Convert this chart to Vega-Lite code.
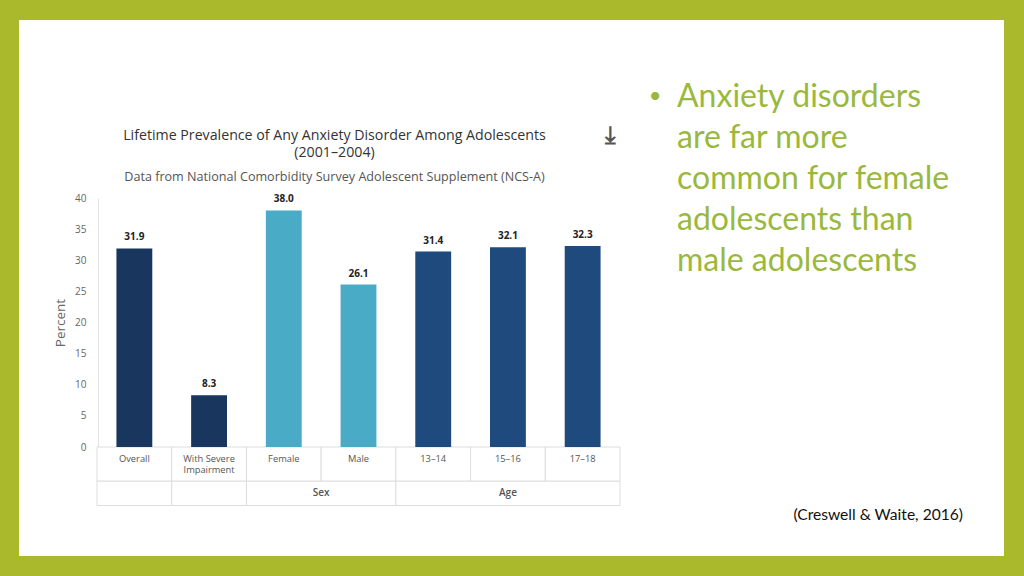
{
  "$schema": "https://vega.github.io/schema/vega-lite/v6.json",
  "width": 985,
  "height": 536,
  "autosize": {"type": "none"},
  "padding": {"left": 19, "top": 20, "right": 20, "bottom": 20},
  "background": "#a9b92b",
  "config": {"view": {"fill": "white", "stroke": null}, "font": "Open Sans"},
  "title": {
    "text": ["Lifetime Prevalence of Any Anxiety Disorder Among Adolescents", "(2001–2004)"],
    "subtitle": "Data from National Comorbidity Survey Adolescent Supplement (NCS-A)",
    "anchor": "middle",
    "dx": -177,
    "dy": 164,
    "offset": 0,
    "fontSize": 14.2,
    "fontWeight": "normal",
    "color": "#333333",
    "lineHeight": 17,
    "subtitleFontSize": 12.6,
    "subtitleColor": "#555555",
    "subtitlePadding": 11
  },
  "datasets": {
    "bars": [
      {"category": "Overall", "label": "Overall", "value": 31.9, "group": "overall"},
      {"category": "With Severe Impairment", "label": "With Severe\nImpairment", "value": 8.3, "group": "overall"},
      {"category": "Female", "label": "Female", "value": 38.0, "group": "sex"},
      {"category": "Male", "label": "Male", "value": 26.1, "group": "sex"},
      {"category": "13–14", "label": "13–14", "value": 31.4, "group": "age"},
      {"category": "15–16", "label": "15–16", "value": 32.1, "group": "age"},
      {"category": "17–18", "label": "17–18", "value": 32.3, "group": "age"}
    ],
    "groups": [
      {"group": "", "start": "Overall", "end": "Overall"},
      {"group": "", "start": "With Severe Impairment", "end": "With Severe Impairment"},
      {"group": "Sex", "start": "Female", "end": "Male"},
      {"group": "Age", "start": "13–14", "end": "17–18"}
    ],
    "notes": [
      {"kind": "bullet", "text": "Anxiety disorders\nare far more\ncommon for female\nadolescents than\nmale adolescents"},
      {"kind": "dot", "text": "•"},
      {"kind": "cite", "text": "(Creswell & Waite, 2016)"},
      {"kind": "icon", "text": "⤓"}
    ]
  },
  "layer": [
    {
      "data": {"name": "bars"},
      "mark": {"type": "rect", "fill": "white", "stroke": "#dddddd", "strokeWidth": 1},
      "encoding": {
        "x": {"field": "category", "type": "nominal", "sort": null,
              "scale": {"domain": ["Overall", "With Severe Impairment", "Female", "Male", "13–14", "15–16", "17–18"], "range": [78, 601], "paddingInner": 0, "paddingOuter": 0},
              "axis": null},
        "y": {"datum": 0, "type": "quantitative",
              "scale": {"domain": [0, 40], "range": [427, 178], "nice": false, "zero": false},
              "axis": {"title": "Percent", "values": [0, 5, 10, 15, 20, 25, 30, 35, 40], "grid": false, "ticks": false,
                       "labelPadding": 12, "labelFontSize": 10, "labelColor": "#666666", "domainColor": "#e3e3e3",
                       "offset": -79, "titleFontSize": 13.5, "titleFontWeight": "normal", "titleColor": "#666666", "titlePadding": 7}},
        "y2": {"datum": -5.5}
      }
    },
    {
      "data": {"name": "groups"},
      "layer": [
        {
          "mark": {"type": "rect", "fill": "white", "stroke": "#dddddd", "strokeWidth": 1},
          "encoding": {
            "x": {"field": "start", "type": "nominal", "bandPosition": 0,
                  "scale": {"domain": ["Overall", "With Severe Impairment", "Female", "Male", "13–14", "15–16", "17–18"], "range": [78, 601], "paddingInner": 0, "paddingOuter": 0},
                  "axis": null},
            "x2": {"field": "end", "bandPosition": 1},
            "y": {"datum": -5.5, "type": "quantitative"},
            "y2": {"datum": -9.4}
          }
        },
        {
          "transform": [{"filter": "datum.group === 'Sex'"}],
          "mark": {"type": "text", "fontSize": 10, "fontWeight": 600, "color": "#555555", "baseline": "middle"},
          "encoding": {
            "x": {"field": "start", "type": "nominal", "bandPosition": 1},
            "y": {"datum": -7.45, "type": "quantitative"},
            "text": {"field": "group"}
          }
        },
        {
          "transform": [{"filter": "datum.group === 'Age'"}],
          "mark": {"type": "text", "fontSize": 10, "fontWeight": 600, "color": "#555555", "baseline": "middle"},
          "encoding": {
            "x": {"datum": "15–16", "type": "nominal"},
            "y": {"datum": -7.45, "type": "quantitative"},
            "text": {"field": "group"}
          }
        }
      ]
    },
    {
      "data": {"name": "bars"},
      "encoding": {
        "x": {"field": "category", "type": "nominal", "sort": null,
              "scale": {"domain": ["Overall", "With Severe Impairment", "Female", "Male", "13–14", "15–16", "17–18"], "range": [78, 601], "paddingInner": 0.52, "paddingOuter": 0.26},
              "axis": null}
      },
      "layer": [
        {
          "mark": {"type": "bar"},
          "encoding": {
            "y": {"field": "value", "type": "quantitative"},
            "color": {"field": "group", "type": "nominal", "scale": {"domain": ["overall", "sex", "age"], "range": ["#19365e", "#4aabc6", "#1f4a7e"]}, "legend": null}
          }
        },
        {
          "mark": {"type": "text", "baseline": "bottom", "dy": -6, "fontWeight": "bold", "fontSize": 10, "color": "#222222"},
          "encoding": {
            "y": {"field": "value", "type": "quantitative"},
            "text": {"field": "value", "type": "quantitative", "format": ".1f"}
          }
        },
        {
          "mark": {"type": "text", "baseline": "top", "lineBreak": "\n", "fontSize": 9.3, "lineHeight": 11, "color": "#555555"},
          "encoding": {
            "y": {"datum": -1.3, "type": "quantitative"},
            "text": {"field": "label"}
          }
        }
      ]
    },
    {
      "data": {"name": "notes"},
      "layer": [
        {
          "transform": [{"filter": "datum.kind === 'bullet'"}],
          "mark": {"type": "text", "align": "left", "baseline": "alphabetic", "lineBreak": "\n", "font": "Lato", "fontSize": 32, "lineHeight": 41, "color": "#9ab93c"},
          "encoding": {"x": {"value": 658}, "y": {"value": 87}, "text": {"field": "text"}}
        },
        {
          "transform": [{"filter": "datum.kind === 'dot'"}],
          "mark": {"type": "text", "align": "center", "baseline": "middle", "font": "Lato", "fontSize": 22, "color": "#9ab93c"},
          "encoding": {"x": {"value": 636}, "y": {"value": 76}, "text": {"field": "text"}}
        },
        {
          "transform": [{"filter": "datum.kind === 'cite'"}],
          "mark": {"type": "text", "align": "right", "baseline": "alphabetic", "font": "Lato", "fontSize": 15.6, "color": "#111111"},
          "encoding": {"x": {"value": 944}, "y": {"value": 500}, "text": {"field": "text"}}
        },
        {
          "transform": [{"filter": "datum.kind === 'icon'"}],
          "mark": {"type": "text", "align": "center", "baseline": "middle", "font": "DejaVu Sans", "fontSize": 24, "fontWeight": "bold", "color": "#555555"},
          "encoding": {"x": {"value": 591}, "y": {"value": 116}, "text": {"field": "text"}}
        }
      ]
    }
  ],
  "resolve": {"scale": {"x": "independent"}}
}
